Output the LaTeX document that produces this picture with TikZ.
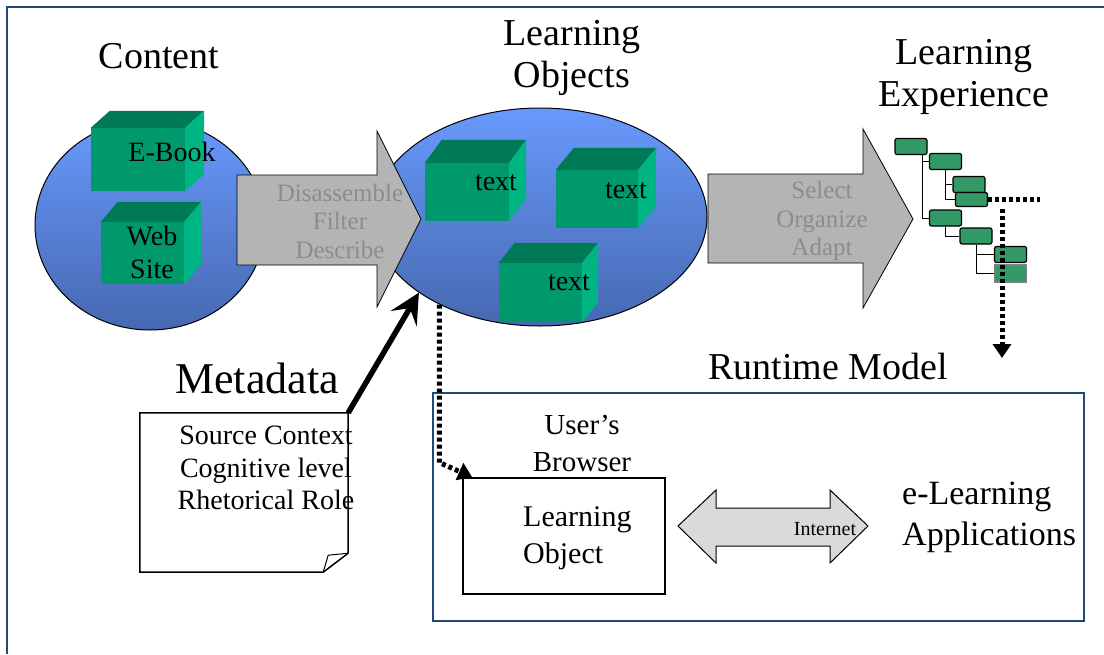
\documentclass[tikz,border=0pt]{standalone}
\usepackage{fontspec}
\setmainfont{Liberation Serif}
\usepackage{tikz}
\usetikzlibrary{positioning,arrows.meta,shapes.geometric,calc}
\definecolor{framecol}{RGB}{31,73,125}
\definecolor{blobtop}{RGB}{104,153,252}
\definecolor{blobbot}{RGB}{70,104,176}
\definecolor{cubefrontcol}{RGB}{0,153,108}
\definecolor{cubetopcol}{RGB}{0,122,86}
\definecolor{cubesidecol}{RGB}{0,181,132}
\definecolor{treegreen}{RGB}{51,153,102}
\definecolor{arrowgrey}{RGB}{180,180,180}
\definecolor{arrowtext}{RGB}{140,140,140}
\definecolor{netgrey}{RGB}{218,218,218}
\tikzset{
  heading/.style={font={\fontsize{38}{42}\selectfont}, align=center, inner sep=0pt},
  blob/.style={ellipse, draw=black, line width=1pt, top color=blobtop, bottom color=blobbot, inner sep=0pt},
  cubefront/.style={rectangle, fill=cubefrontcol, inner sep=0pt},
  cubetop/.style={fill=cubetopcol},
  cubeside/.style={fill=cubesidecol},
  cubetxt/.style={font={\fontsize{28}{33}\selectfont}, align=center, inner sep=0pt},
  bigarrow/.style={draw=black, line width=0.8pt, fill=arrowgrey},
  arrowtxt/.style={font={\fontsize{25}{28.5}\selectfont}, text=arrowtext, align=center, inner sep=0pt},
  treebox/.style={rectangle, rounded corners=2pt, draw=black, line width=1.2pt, fill=treegreen,
    minimum width=32pt, minimum height=16pt, inner sep=0pt},
  treeln/.style={draw=black, line width=1pt},
  dotline/.style={line width=5pt, dash pattern=on 4pt off 3pt},
  dotarrow/.style={dotline, -{Triangle[length=14pt,width=18pt]}},
  metaarrow/.style={line width=5.5pt, -{Stealth[length=30pt,width=30pt,inset=12pt]}},
  notebox/.style={rectangle, minimum width=208pt, minimum height=159pt, inner sep=0pt},
  notetxt/.style={font={\fontsize{28}{32.5}\selectfont}, align=center, inner sep=0pt},
  plainbox/.style={rectangle, draw=black, line width=1.5pt, inner sep=0pt},
  bodytxt/.style={font={\fontsize{30}{37}\selectfont}, inner sep=0pt},
}
% side and top faces of a green box
\newcommand{\cubefaces}[3]{%
  \fill[cubetop] (#1.north west) -- ++(#2,#3) -- ($(#1.north east)+(#2,#3)$) -- (#1.north east) -- cycle;
  \fill[cubeside] (#1.north east) -- ++(#2,#3) -- ($(#1.south east)+(#2,#3)$) -- (#1.south east) -- cycle;
}

\begin{document}
\begin{tikzpicture}[x=1pt, y=-1pt]
\useasboundingbox (0,0) rectangle (1104,654);
\draw[framecol, line width=2pt] (7,654) -- (7,7) -- (1104,7);
% ---- Content ----
\node[heading] (contenthd) at (159,56) {Content};
\node[blob, minimum width=230pt, minimum height=210pt] (content) at (150,225) {};
\node[cubefront, minimum width=94pt, minimum height=63pt] (ebook) at (138,159.5) {};
\cubefaces{ebook}{19}{-17}
\node[cubetxt] (ebooktxt) at (172,152) {E-Book};
\node[cubefront, minimum width=83pt, minimum height=62pt] (website) at (142.5,253) {};
\cubefaces{website}{17}{-20}
\node[cubetxt] (websitetxt) at (152,252) {Web\\Site};
% ---- Learning objects ----
\node[heading] (lohd) at (572,58) {Learning\\Objects};
\node[blob, minimum width=334pt, minimum height=218pt] (lo) at (540,217) {};
\node[cubefront, minimum width=84pt, minimum height=58pt] (txta) at (467,192) {};
\cubefaces{txta}{17}{-23}
\node[cubetxt] (txtatxt) at (496,183) {text};
\node[cubefront, minimum width=82pt, minimum height=58pt] (txtb) at (597,199) {};
\cubefaces{txtb}{18}{-22}
\node[cubetxt] (txtbtxt) at (626,191) {text};
\node[cubefront, minimum width=83pt, minimum height=59pt] (txtc) at (540.5,292.5) {};
\cubefaces{txtc}{16}{-20}
\node[cubetxt] (txtctxt) at (569,283) {text};
% ---- grey process arrows ----
\draw[bigarrow] (237,175) -- (377,175) -- (377,131) -- (421,219) -- (377,307) -- (377,265) -- (237,265) -- cycle;
\node[arrowtxt] (distxt) at (340,221) {Disassemble\\Filter\\Describe};
\draw[bigarrow] (708,174) -- (863,174) -- (863,129) -- (913,219) -- (863,308) -- (863,263) -- (708,263) -- cycle;
\node[arrowtxt] (seltxt) at (822,221) {Select\\Organize\\Adapt};
% ---- Learning experience ----
\node[heading] (lehd) at (964,77) {Learning\\Experience};
\node[treebox] (t1) at (911,146.5) {};
\node[treebox] (t2) at (945.5,161.5) {};
\node[treebox] (t3) at (969,184.5) {};
\node[treebox, minimum height=14pt] (t4) at (971.5,199.5) {};
\node[treebox] (t5) at (945.5,218) {};
\node[treebox] (t6) at (976,236) {};
\node[treebox] (t7) at (1010.5,254.5) {};
\node[treebox, draw=gray, minimum height=17pt, rounded corners=0pt] (t8) at (1010.5,273.5) {};
\draw[treeln] ([xshift=-5pt]t1.south east) |- (t2.west);
\draw[treeln] ([xshift=-5pt]t1.south east) |- (t5.west);
\draw[treeln] (t2.south) |- (t3.west);
\draw[treeln] (t2.south) |- (t4.west);
\draw[treeln] (t5.south) |- (t6.west);
\draw[treeln] (t6.south) |- (t7.west);
\draw[treeln] (t6.south) |- (t8.west);
\coordinate (dotend) at (1040,199.5);
\coordinate (dropstart) at (1002,209);
\coordinate (dropend) at (1002,358);
\draw[dotline] (t4.east) -- (dotend);
\draw[dotarrow] (dropstart) -- (dropend);
% ---- Metadata ----
\node[heading, font={\fontsize{44}{48}\selectfont}] (metahd) at (257,378) {Metadata};
\node[notebox] (meta) at (244,492.5) {};
\draw[line width=1.5pt] (meta.north west) -- (meta.north east) -- ([yshift=19pt]meta.south east)
  -- ([xshift=-25pt]meta.south east) -- (meta.south west) -- cycle;
\draw[line width=1pt] ([xshift=-25pt]meta.south east) -- ([xshift=-20pt,yshift=17pt]meta.south east)
  -- ([yshift=19pt]meta.south east);
\node[notetxt] (metatxt) at (266,468) {Source Context\\Cognitive level\\Rhetorical Role};
\draw[metaarrow] (meta.north east) -- (lo.212);
% ---- Runtime model ----
\node[heading] (runhd) at (828,366) {Runtime Model};
\node[rectangle, draw=framecol, line width=1.5pt, minimum width=651pt, minimum height=228pt, inner sep=0pt] (runtime) at (758.5,507) {};
\node[bodytxt, align=center, font={\fontsize{29}{37}\selectfont}] (browserhd) at (582,443) {User’s\\Browser};
\node[plainbox, minimum width=202pt, minimum height=116pt] (browser) at (564,536) {};
\node[bodytxt, align=left, anchor=west] (browsertxt) at (523,538) {Learning\\Object};
\draw[line width=1pt, fill=netgrey] (678,526) -- (716,490) -- (716,508) -- (830,508) -- (830,490) -- (868,526)
  -- (830,563) -- (830,546) -- (716,546) -- (716,563) -- cycle;
\node[inner sep=0pt, font={\fontsize{20}{22}\selectfont}] (nettxt) at (825,529) {Internet};
\node[bodytxt, align=left, anchor=west, font={\fontsize{34}{41}\selectfont}] (apps) at (902,517) {e-Learning\\Applications};
\draw[dotarrow] (lo.221.6) -- ++(0,158) -- ([xshift=10pt]browser.north west);
\end{tikzpicture}
\end{document}
